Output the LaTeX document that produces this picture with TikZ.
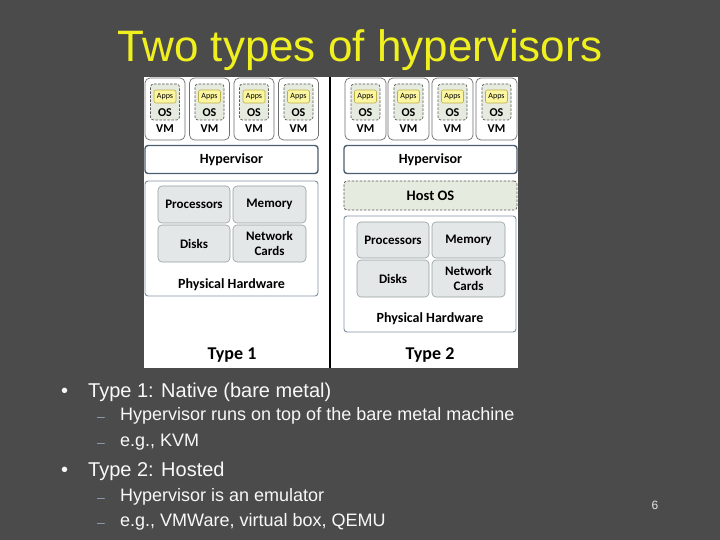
\documentclass[tikz,border=0pt]{standalone}
\usepackage{fontspec}
\setmainfont{Liberation Sans}
\newfontfamily\diag{Carlito}
\definecolor{bg}{RGB}{75,75,75}
\definecolor{titleyellow}{RGB}{240,240,30}
\definecolor{txt}{RGB}{248,248,248}
\definecolor{dashc}{RGB}{140,160,180}
\definecolor{vmgray}{RGB}{110,110,110}
\definecolor{dashgray}{RGB}{90,90,90}
\definecolor{osfill}{RGB}{230,235,223}
\definecolor{appsfill}{RGB}{252,246,160}
\definecolor{appsborder}{RGB}{190,175,70}
\definecolor{hypblue}{RGB}{78,95,112}
\definecolor{hwblue}{RGB}{128,145,160}
\definecolor{compfill}{RGB}{227,231,231}
\definecolor{compborder}{RGB}{150,160,160}
\begin{document}
\begin{tikzpicture}[x=1pt,y=-1pt,
  title/.style={text=titleyellow,font=\fontsize{44}{50}\selectfont,inner sep=0pt,anchor=base},
  lvlone/.style={text=txt,font=\fontsize{20}{24}\selectfont,inner sep=0pt,anchor=base west},
  lvltwo/.style={text=txt,font=\fontsize{18}{22}\selectfont,inner sep=0pt,anchor=base west},
  bul/.style={text=txt,font=\fontsize{20}{24}\selectfont,inner sep=0pt,anchor=base west},
  subbul/.style={text=dashc,font=\fontsize{14}{16}\selectfont,inner sep=0pt,anchor=base west},
  panel/.style={fill=white,draw=none,minimum width=374pt,minimum height=291pt,inner sep=0pt},
  vmbox/.style={draw=vmgray,fill=white,rounded corners=5pt,line width=0.7pt,minimum height=62pt,inner sep=0pt},
  osbox/.style={draw=dashgray,dash pattern=on 2.5pt off 1.5pt,fill=osfill,rounded corners=3pt,line width=0.7pt,minimum width=29pt,minimum height=36pt,inner sep=0pt},
  appsbox/.style={draw=appsborder,fill=appsfill,rounded corners=2pt,line width=0.6pt,minimum width=22pt,minimum height=13pt,inner sep=0pt,font=\diag\fontsize{8}{9}\selectfont},
  vmtext/.style={font=\diag\bfseries\fontsize{12}{13}\selectfont,inner sep=0pt},
  hyp/.style={draw=hypblue,line width=1.4pt,fill=white,rounded corners=3pt,minimum width=173pt,minimum height=28pt,inner sep=0pt,font=\diag\bfseries\fontsize{14}{16}\selectfont},
  hostos/.style={draw=dashgray,dash pattern=on 2.5pt off 1.5pt,fill=osfill,line width=0.7pt,rounded corners=3pt,minimum width=173pt,minimum height=29pt,inner sep=0pt,font=\diag\bfseries\fontsize{14.5}{16}\selectfont},
  hw/.style={draw=hwblue,line width=0.9pt,fill=white,rounded corners=3pt,inner sep=0pt},
  comp/.style={draw=compborder,fill=compfill,rounded corners=4pt,line width=0.6pt,minimum width=72pt,minimum height=37pt,inner sep=0pt,align=center,font=\diag\bfseries\fontsize{13}{15}\selectfont},
  hwtext/.style={font=\diag\bfseries\fontsize{14}{16}\selectfont,inner sep=0pt},
  typetext/.style={font=\diag\bfseries\fontsize{18}{20}\selectfont,inner sep=0pt}]
\fill[bg] (0,0) rectangle (720,540);
\useasboundingbox (0,0) rectangle (720,540);

% title
\node[title] (title) at (360,62) {Two types of hypervisors};

% diagram panel
\node[panel] (panel) at (331,222.5) {};
\coordinate (divtop) at (330,77);
\coordinate (divbot) at (330,368);
\draw[line width=2pt,black] (divtop) -- (divbot);

% VMs
\foreach \cx/\w/\i in {165/40/L1,209.5/40/L2,254/40/L3,298.5/40/L4,365.5/41/R1,408.5/41/R2,452.5/41/R3,496.5/41/R4}{
  \node[vmbox,minimum width=\w pt] (vm\i) at (\cx,109) {};
  \node[osbox] (os\i) at (\cx,102) {};
  \node[appsbox] (apps\i) at (\cx,96.5) {Apps};
  \node[vmtext] (ost\i) at (\cx,112.5) {OS};
  \node[vmtext] (vmt\i) at (\cx,129) {VM};
}

% Type 1
\node[hyp] (hypL) at (231.5,159.5) {Hypervisor};
\node[hw,minimum width=173pt,minimum height=115pt] (hwL) at (231.5,238.5) {};
\node[comp] (procL) at (194,204.5) {Processors};
\node[comp,minimum width=73pt] (memL) at (269.5,204.5) {Memory};
\node[comp] (diskL) at (194,243.5) {Disks};
\node[comp,minimum width=73pt] (netL) at (269.5,243.5) {Network\\Cards};
\node[hwtext] (hwtL) at (231.5,285) {Physical Hardware};
\node[typetext] (type1) at (232,355) {Type 1};

% Type 2
\node[hyp] (hypR) at (430.5,159.5) {Hypervisor};
\node[hostos] (hostR) at (430.5,195.5) {Host OS};
\node[hw,minimum width=172pt,minimum height=116pt] (hwR) at (430,274) {};
\node[comp,minimum height=36pt] (procR) at (393,240) {Processors};
\node[comp,minimum width=73pt,minimum height=36pt] (memR) at (468.5,240) {Memory};
\node[comp] (diskR) at (393,278.5) {Disks};
\node[comp,minimum width=73pt] (netR) at (468.5,278.5) {Network\\Cards};
\node[hwtext] (hwtR) at (430,319) {Physical Hardware};
\node[typetext] (type2) at (430,355) {Type 2};

% bullets
\node[bul] (b1) at (61,397) {•};
\node[lvlone] (t1) at (88,397) {Type 1: Native (bare metal)};
\node[subbul] (d1) at (97,421) {–};
\node[lvltwo] (t1a) at (120,420) {Hypervisor runs on top of the bare metal machine};
\node[subbul] (d2) at (97,447.5) {–};
\node[lvltwo] (t1b) at (120,446.5) {e.g., KVM};
\node[bul] (b2) at (61,476) {•};
\node[lvlone] (t2) at (88,476) {Type 2: Hosted};
\node[subbul] (d3) at (97,502.5) {–};
\node[lvltwo] (t2a) at (120,501.5) {Hypervisor is an emulator};
\node[subbul] (d4) at (97,527.5) {–};
\node[lvltwo] (t2b) at (120,526.5) {e.g., VMWare, virtual box, QEMU};

% page number
\node[text=txt!90!bg,font=\fontsize{12}{14}\selectfont,inner sep=0pt,anchor=base] (page) at (655,509) {6};
\end{tikzpicture}
\end{document}
